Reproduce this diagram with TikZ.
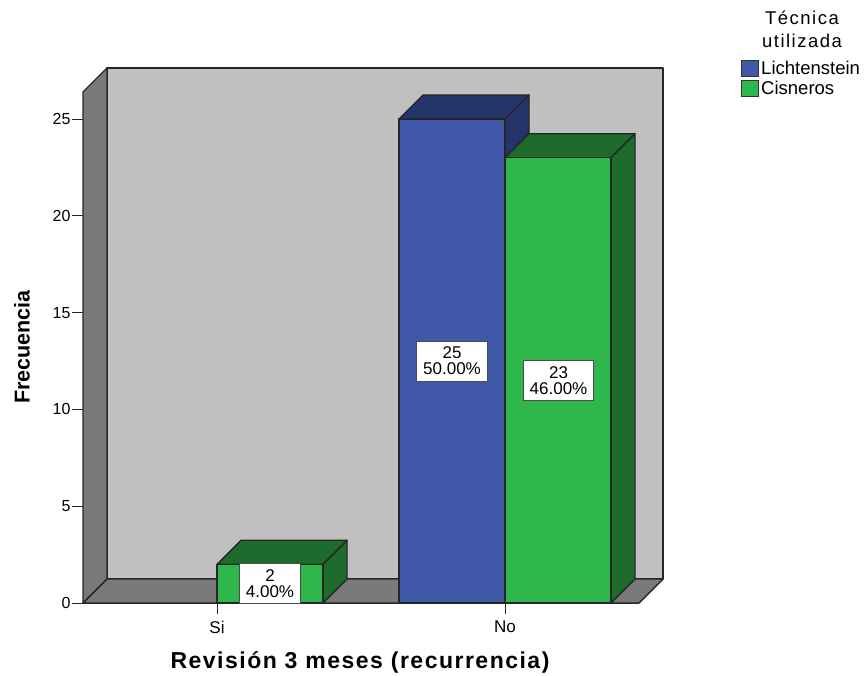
\documentclass[tikz,border=0pt]{standalone}
\usepackage{fontspec}
\setmainfont{Liberation Sans}
\definecolor{wallback}{HTML}{C0C0C0}
\definecolor{wallside}{HTML}{7A7A7A}
\definecolor{lichfront}{HTML}{3F58A8}
\definecolor{lichdark}{HTML}{25346B}
\definecolor{cisfront}{HTML}{2EB84B}
\definecolor{cisdark}{HTML}{1E6C2D}
\tikzset{
  edge/.style={draw=black!85, line width=1.4pt, line join=round},
  valbox/.style={draw=black!70, fill=white, line width=0.9pt, align=center,
    inner xsep=6.5pt, inner ysep=6pt, font=\fontsize{17}{16}\selectfont},
  ticklabel/.style={font=\fontsize{16}{16}\selectfont, inner sep=1pt},
  keybox/.style={draw=black!80, line width=1pt, minimum width=17pt, minimum height=16pt, inner sep=0pt},
}

\begin{document}
\begin{tikzpicture}[x=1pt,y=-1pt]
    \useasboundingbox (0,0) rectangle (866,675);
    % walls and floor
    \draw [edge, fill=wallback] (107,68) rectangle (663,579);
    \draw [edge, fill=wallside] (83,92) -- (107,68) -- (107,579) -- (83,603) -- cycle;
    \draw [edge, fill=wallside] (83,603) -- (107,579) -- (663,579) -- (639,603) -- cycle;

    % value axis
    \foreach \v in {0,5,...,25}
        \draw [edge, line width=1pt] (83,{603-19.36*\v}) -- ++(-11,0)
            node [left, ticklabel] (tick\v) {\v};

    % bars
    \foreach \xa/\h/\front/\dark in {399/25/lichfront/lichdark, 505/23/cisfront/cisdark, 217/2/cisfront/cisdark} {
        \pgfmathsetmacro\yt{603-19.36*\h}
        \pgfmathsetmacro\xb{\xa+106}
        \draw [edge, fill=\dark] (\xa,\yt) -- ++(24,-24) -- ++(106,0) -- ++(-24,24) -- cycle;
        \draw [edge, fill=\dark] (\xb,\yt) -- ++(24,-24) -- ({\xb+24},579) -- (\xb,603) -- cycle;
        \draw [edge, fill=\front] (\xa,\yt) rectangle (\xb,603);
    }

    % category axis
    \draw [edge, line width=1pt] (83,603) -- (639,603);
    \draw [edge, line width=1pt] (217,603) -- (217,614);
    \draw [edge, line width=1pt] (505,603) -- (505,614);
    \node [ticklabel, font=\fontsize{17}{17}\selectfont] (catsi) at (217,627) {Si};
    \node [ticklabel, font=\fontsize{17}{17}\selectfont] (catno) at (505,627) {No};

    % value labels
    \node [valbox] (lichnolabel) at (452,361) {25\\50.00\%};
    \node [valbox] (cisnolabel) at (558.5,380.5) {23\\46.00\%};
    \node [valbox] (cissilabel) at (270,583.5) {2\\4.00\%};

    % axis titles
    \node [rotate=90, font=\bfseries\fontsize{21.5}{22}\selectfont] (ytitle) at (22,347) {Frecuencia};
    \node [font=\bfseries\fontsize{23}{24}\selectfont\addfontfeature{LetterSpace=6.5}] (xtitle) at (360,662) {Revisión 3 meses (recurrencia)};

    % legend
    \node [align=center, font=\fontsize{18.5}{23}\selectfont\addfontfeature{LetterSpace=8}] (legtitle) at (802,29) {Técnica\\utilizada};
    \node [keybox, fill=lichfront] (lichkey) at (750,68) {};
    \node [keybox, fill=cisfront] (ciskey) at (750,88) {};
    \node [anchor=west, inner xsep=2pt, font=\fontsize{18.5}{18}\selectfont] (lichtext) at (lichkey.east) {Lichtenstein};
    \node [anchor=west, inner xsep=2pt, font=\fontsize{18.5}{18}\selectfont] (cistext) at (ciskey.east) {Cisneros};
\end{tikzpicture}
\end{document}
